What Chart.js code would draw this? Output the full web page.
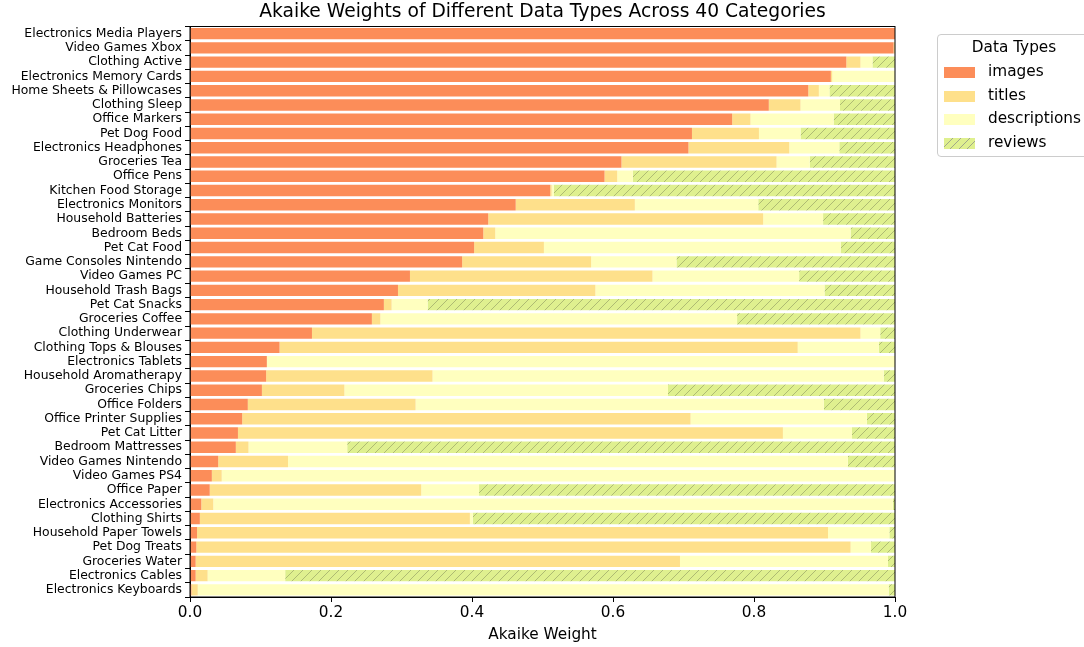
<!DOCTYPE html>
<html>
<head>
<meta charset="utf-8">
<script src="https://cdn.jsdelivr.net/npm/chart.js@4"></script>
<style>
    html, body { margin: 0; padding: 0; background: #fff; overflow: hidden; }
    #wrap { position: relative; width: 1084px; height: 647px; }
    #legend {
        position: absolute; left: 937px; top: 34px; width: 160px; height: 123px;
        border: 1px solid #ccc; border-radius: 4px; background: #fff;
        font-family: "DejaVu Sans", sans-serif; font-size: 15.3px; color: #000;
        box-sizing: border-box;
    }
    #legend .ttl { position: absolute; left: 0; width: 152px; top: 3px; text-align: center; }
    #legend .row { position: absolute; left: 6px; height: 20px; }
    #legend .sw { position: absolute; left: 0; top: 5px; width: 31px; height: 11px; }
    #legend .lb { position: absolute; left: 44px; top: 0; white-space: nowrap; }
</style>
</head>
<body>
<div id="wrap">
    <canvas id="myChart" width="1084" height="647"></canvas>
    <div id="legend"></div>
</div>
<script>
// 1. Data
const categories = [
    "Electronics Media Players", "Video Games Xbox", "Clothing Active", "Electronics Memory Cards",
    "Home Sheets & Pillowcases", "Clothing Sleep", "Office Markers", "Pet Dog Food",
    "Electronics Headphones", "Groceries Tea", "Office Pens", "Kitchen Food Storage",
    "Electronics Monitors", "Household Batteries", "Bedroom Beds", "Pet Cat Food",
    "Game Consoles Nintendo", "Video Games PC", "Household Trash Bags", "Pet Cat Snacks",
    "Groceries Coffee", "Clothing Underwear", "Clothing Tops & Blouses", "Electronics Tablets",
    "Household Aromatherapy", "Groceries Chips", "Office Folders", "Office Printer Supplies",
    "Pet Cat Litter", "Bedroom Mattresses", "Video Games Nintendo", "Video Games PS4",
    "Office Paper", "Electronics Accessories", "Clothing Shirts", "Household Paper Towels",
    "Pet Dog Treats", "Groceries Water", "Electronics Cables", "Electronics Keyboards"
];
const images = [1.000, 0.998, 0.931, 0.909, 0.877, 0.821, 0.769, 0.712, 0.707, 0.612,
    0.588, 0.511, 0.462, 0.423, 0.416, 0.403, 0.386, 0.312, 0.295, 0.275,
    0.258, 0.173, 0.127, 0.109, 0.108, 0.102, 0.082, 0.074, 0.068, 0.065,
    0.040, 0.031, 0.028, 0.016, 0.014, 0.010, 0.009, 0.008, 0.008, 0.002];
const titles = [0.000, 0.002, 0.020, 0.002, 0.015, 0.045, 0.026, 0.095, 0.143, 0.220,
    0.018, 0.002, 0.169, 0.390, 0.017, 0.099, 0.183, 0.344, 0.280, 0.011,
    0.012, 0.778, 0.735, 0.000, 0.236, 0.117, 0.238, 0.636, 0.773, 0.018,
    0.099, 0.014, 0.300, 0.017, 0.383, 0.895, 0.928, 0.687, 0.017, 0.009];
const descriptions = [0.000, 0.000, 0.017, 0.089, 0.015, 0.056, 0.118, 0.059, 0.071, 0.047,
    0.022, 0.003, 0.175, 0.085, 0.504, 0.421, 0.121, 0.208, 0.325, 0.051,
    0.506, 0.028, 0.115, 0.891, 0.640, 0.459, 0.579, 0.250, 0.098, 0.140,
    0.794, 0.955, 0.082, 0.964, 0.004, 0.087, 0.029, 0.295, 0.110, 0.980];
const reviews = [0.000, 0.000, 0.032, 0.000, 0.093, 0.078, 0.087, 0.134, 0.079, 0.121,
    0.372, 0.484, 0.194, 0.102, 0.063, 0.077, 0.310, 0.136, 0.100, 0.663,
    0.224, 0.021, 0.023, 0.000, 0.016, 0.322, 0.101, 0.040, 0.061, 0.777,
    0.067, 0.000, 0.590, 0.003, 0.599, 0.008, 0.034, 0.010, 0.865, 0.009];
const xTicks = [0, 0.2, 0.4, 0.6, 0.8, 1.0];

const FONT = "'DejaVu Sans', sans-serif";
const colors = { images: "#fc8d59", titles: "#fee08b", descriptions: "#ffffbf", reviews: "#dff08f" };

// 2. Hatch pattern for reviews
function makeHatch() {
    const s = 9;
    const c = document.createElement("canvas");
    c.width = s; c.height = s;
    const g = c.getContext("2d");
    g.fillStyle = colors.reviews;
    g.fillRect(0, 0, s, s);
    g.strokeStyle = "rgba(110,120,80,0.55)";
    g.lineWidth = 0.8;
    g.beginPath();
    g.moveTo(0, s); g.lineTo(s, 0);
    g.moveTo(-1, 1); g.lineTo(1, -1);
    g.moveTo(s - 1, s + 1); g.lineTo(s + 1, s - 1);
    g.stroke();
    return g.createPattern(c, "repeat");
}
const hatch = makeHatch();

// 3. Legend (HTML)
const legendItems = [
    ["images", colors.images],
    ["titles", colors.titles],
    ["descriptions", colors.descriptions],
    ["reviews", "repeating-linear-gradient(-45deg, " + colors.reviews + " 0 5px, rgba(120,130,90,0.7) 5px 6px)"]
];
const legend = document.getElementById("legend");
legend.innerHTML = '<div class="ttl">Data Types</div>';
legendItems.forEach((it, i) => {
    legend.innerHTML += `<div class="row" style="top:${27 + i * 23.6}px">
        <div class="sw" style="background:${it[1]}"></div><div class="lb">${it[0]}</div></div>`;
});

// 4. Frame + title plugin
const framePlugin = {
    id: "frame",
    afterDraw(chart) {
        const { ctx, chartArea: a } = chart;
        ctx.save();
        ctx.strokeStyle = "#000";
        ctx.lineWidth = 1;
        ctx.strokeRect(a.left, a.top, a.right - a.left, a.bottom - a.top);
        ctx.fillStyle = "#000";
        ctx.font = "18.7px " + FONT;
        ctx.textAlign = "center";
        ctx.textBaseline = "middle";
        ctx.fillText("Akaike Weights of Different Data Types Across 40 Categories", (a.left + a.right) / 2, 12);
        ctx.restore();
    }
};

// 5. Chart
const ds = (label, data, bg) => ({
    label, data, backgroundColor: bg, borderWidth: 0,
    barPercentage: 0.8, categoryPercentage: 1.0
});

new Chart(document.getElementById("myChart").getContext("2d"), {
    type: "bar",
    data: {
        labels: categories,
        datasets: [
            ds("images", images, colors.images),
            ds("titles", titles, colors.titles),
            ds("descriptions", descriptions, colors.descriptions),
            ds("reviews", reviews, hatch)
        ]
    },
    options: {
        indexAxis: "y",
        responsive: false,
        animation: false,
        layout: { padding: { top: 26.5, right: 189, left: 0, bottom: 0 } },
        plugins: { legend: { display: false }, tooltip: { enabled: false }, title: { display: false } },
        scales: {
            x: {
                stacked: true, min: 0, max: 1,
                afterFit: s => { s.height = 50; },
                afterBuildTicks: s => { s.ticks = xTicks.map(v => ({ value: v })); },
                grid: { drawOnChartArea: false, drawTicks: true, tickLength: 5, color: "#000" },
                border: { display: true, color: "#000" },
                ticks: { color: "#000", font: { family: FONT, size: 15.3 }, padding: 2,
                    maxRotation: 0, callback: v => Number(v).toFixed(1) },
                title: { display: true, text: "Akaike Weight", color: "#000",
                    font: { family: FONT, size: 15.3 }, padding: { top: 0, bottom: 3 } }
            },
            y: {
                stacked: true,
                afterFit: s => { s.width = 190; },
                grid: { drawOnChartArea: false, drawTicks: true, tickLength: 5, color: "#000" },
                border: { display: true, color: "#000" },
                ticks: { color: "#000", font: { family: FONT, size: 12.4 }, padding: 3, autoSkip: false }
            }
        }
    },
    plugins: [framePlugin]
});
</script>
</body>
</html>
